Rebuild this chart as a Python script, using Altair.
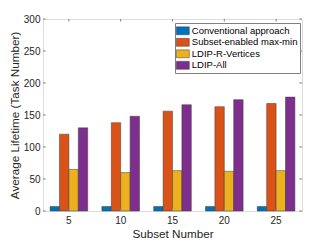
import altair as alt
import pandas as pd

subsets = ["5", "10", "15", "20", "25"]
methods = ["Conventional approach", "Subset-enabled max-min", "LDIP-R-Vertices", "LDIP-All"]
colors = ["#0072BD", "#D95319", "#EDB120", "#7E2F8E"]
conventional = [7, 7, 7, 7, 7]
maxmin = [120, 138, 156, 163, 168]
rvertices = [65, 60, 63, 62, 63]
ldip_all = [130, 148, 166, 174, 178]
yticks = [0, 50, 100, 150, 200, 250, 300]

series = [conventional, maxmin, rvertices, ldip_all]
rows = []
for i, s in enumerate(subsets):
    for m, vals in zip(methods, series):
        rows.append({"subset": s, "method": m, "value": vals[i]})
df = pd.DataFrame(rows)
ytick_df = pd.DataFrame({"value": yticks})
xtick_df = pd.DataFrame({"subset": subsets})

W, H = 259, 192
AX = "#808080"
TXT = "#262626"
FONT = "Liberation Sans"
symbol = "M-1.18,-0.72H1.18V0.72H-1.18Z"

yaxis = alt.Axis(title="Average Lifetime (Task Number)", values=yticks, tickCount=7, ticks=False,
                 domain=False, grid=False, labelPadding=3, titlePadding=3,
                 labelOverlap=False, labelFlush=False,
                 labelFontSize=10, titleFontSize=11.7, labelColor=TXT, titleColor=TXT,
                 labelFont=FONT, titleFont=FONT, titleFontWeight="normal")
xaxis = alt.Axis(title="Subset Number", labelAngle=0, ticks=False, domain=False,
                 labelPadding=4, titlePadding=3, labelFontSize=10, titleFontSize=11.7,
                 labelColor=TXT, titleColor=TXT, labelFont=FONT, titleFont=FONT,
                 titleFontWeight="normal")
yscale = alt.Scale(domain=[0, 300], nice=False)

bars = alt.Chart(df).mark_bar(stroke="#3a3a3a", strokeWidth=0.5).encode(
    x=alt.X("subset:N", sort=subsets,
            scale=alt.Scale(paddingInner=0.274, paddingOuter=0.137), axis=xaxis),
    xOffset=alt.XOffset("method:N", sort=methods, scale=alt.Scale(paddingInner=0, paddingOuter=0)),
    y=alt.Y("value:Q", scale=yscale, axis=yaxis),
    color=alt.Color("method:N", sort=methods,
                    scale=alt.Scale(domain=methods, range=colors),
                    legend=alt.Legend(title=None, orient="none", legendX=132, legendY=4,
                                      fillColor="white", strokeColor=AX, padding=1.8,
                                      labelFontSize=9.5, labelFont=FONT, labelColor="#000000",
                                      labelOffset=3, rowPadding=0.5,
                                      symbolType=symbol, symbolSize=121,
                                      symbolStrokeColor="#3a3a3a", symbolStrokeWidth=0.5,
                                      symbolOpacity=1)),
)

yl = alt.Chart(ytick_df).mark_rule(color=AX, strokeWidth=1).encode(
    y=alt.Y("value:Q", scale=yscale, axis=yaxis), x=alt.value(0), x2=alt.value(2.6))
yr = alt.Chart(ytick_df).mark_rule(color=AX, strokeWidth=1).encode(
    y=alt.Y("value:Q", scale=yscale, axis=yaxis), x=alt.value(W - 2.6), x2=alt.value(W))
xt = alt.Chart(xtick_df).mark_rule(color=AX, strokeWidth=1).encode(
    x=alt.X("subset:N", sort=subsets, axis=xaxis), y=alt.value(0), y2=alt.value(2.6))
xb = alt.Chart(xtick_df).mark_rule(color=AX, strokeWidth=1).encode(
    x=alt.X("subset:N", sort=subsets, axis=xaxis), y=alt.value(H - 2.6), y2=alt.value(H))

chart = alt.layer(bars, yl, yr, xt, xb).properties(
    width=W, height=H,
    autosize=alt.AutoSizeParams(type="none"),
    padding={"left": 35, "top": 11, "right": 24, "bottom": 40},
).configure_view(stroke=AX, strokeWidth=1).configure(background="white")

chart.save("out.html", embed_options={"renderer": "svg", "actions": False})
